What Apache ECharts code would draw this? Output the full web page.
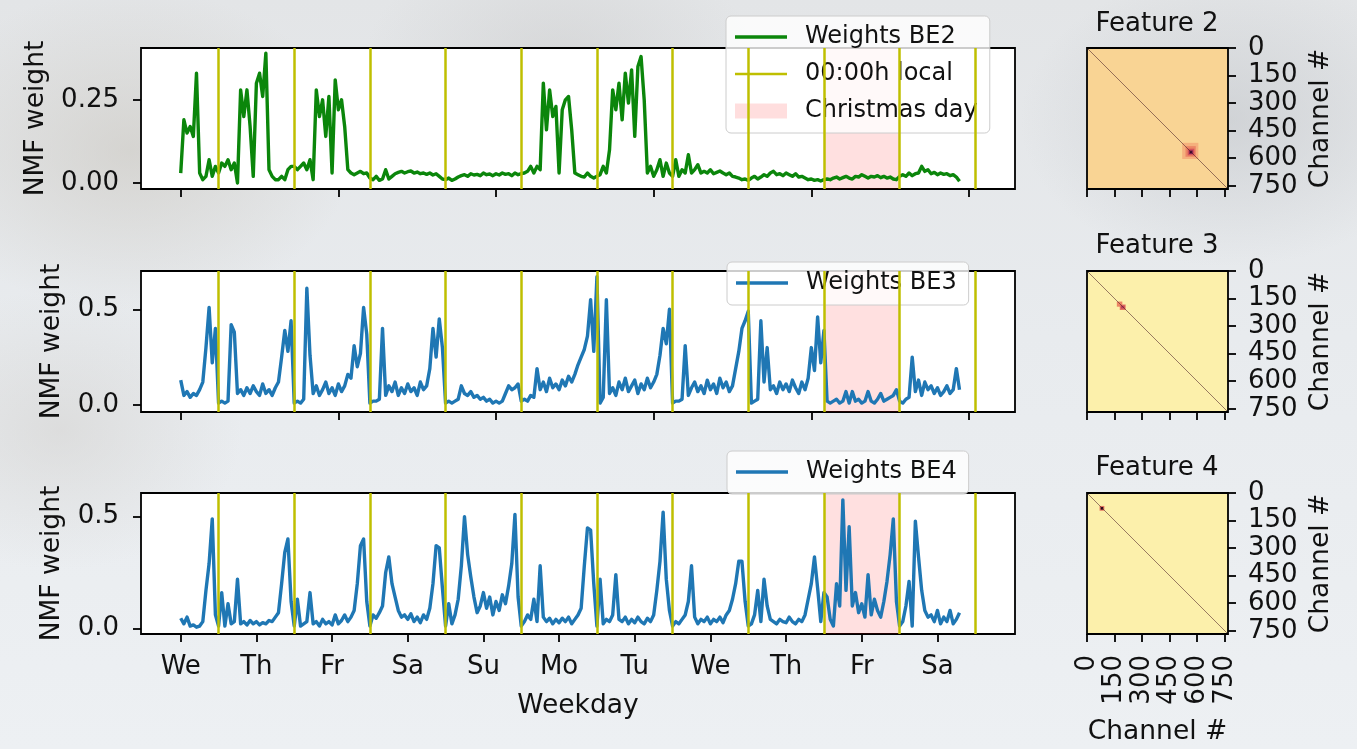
<!DOCTYPE html>
<html>
<head>
<meta charset="utf-8">
<script src="https://cdn.jsdelivr.net/npm/echarts@6/dist/echarts.min.js"></script>
<style>
  html, body { margin: 0; padding: 0; width: 1357px; height: 749px; overflow: hidden; }
  body {
    background:
      radial-gradient(ellipse 320px 230px at 130px 150px, rgba(200,196,188,0.55), rgba(200,196,188,0) 70%),
      radial-gradient(ellipse 280px 170px at 560px 60px, rgba(198,198,198,0.45), rgba(198,198,198,0) 70%),
      radial-gradient(ellipse 300px 210px at 1230px 120px, rgba(184,187,191,0.45), rgba(184,187,191,0) 70%),
      radial-gradient(ellipse 260px 200px at 60px 430px, rgba(208,206,203,0.5), rgba(208,206,203,0) 70%),
      linear-gradient(180deg, #e3e5e7 0%, #e8ebee 45%, #edf0f3 100%);
  }
  #chart { width: 1357px; height: 749px; }
</style>
</head>
<body>
<div id="chart"></div>
<script>
// Hourly NMF weights, hour 0 = Wednesday noon (local), 248 samples each.
const be2 = [
  0.03, 0.19, 0.15, 0.17, 0.14, 0.33, 0.03, 0.01, 0.02, 0.07, 0.02, 0.05,
  0.03, 0.06, 0.05, 0.07, 0.04, 0.06, 0.00, 0.28, 0.20, 0.28, 0.17, 0.02,
  0.30, 0.33, 0.26, 0.39, 0.04, 0.02, 0.01, 0.01, 0.02, 0.01, 0.04, 0.05,
  0.05, 0.04, 0.05, 0.06, 0.04, 0.07, 0.01, 0.28, 0.20, 0.25, 0.14, 0.26,
  0.03, 0.31, 0.22, 0.25, 0.17, 0.04, 0.03, 0.025, 0.03, 0.035, 0.028, 0.03,
  0.015, 0.01, 0.02, 0.008, 0.012, 0.04, 0.012, 0.02, 0.028, 0.032, 0.035, 0.03,
  0.034, 0.036, 0.03, 0.033, 0.028, 0.03, 0.026, 0.03, 0.024, 0.028, 0.02, 0.012,
  0.01, 0.015, 0.008, 0.012, 0.018, 0.022, 0.025, 0.02, 0.028, 0.024, 0.026, 0.022,
  0.03, 0.025, 0.027, 0.022, 0.028, 0.024, 0.03, 0.026, 0.028, 0.022, 0.03, 0.025,
  0.028, 0.03, 0.035, 0.05, 0.03, 0.05, 0.04, 0.30, 0.16, 0.28, 0.20, 0.23,
  0.03, 0.22, 0.25, 0.26, 0.16, 0.03, 0.025, 0.02, 0.018, 0.03, 0.02, 0.015,
  0.02, 0.025, 0.05, 0.03, 0.10, 0.28, 0.22, 0.30, 0.19, 0.33, 0.24, 0.34,
  0.14, 0.35, 0.38, 0.25, 0.03, 0.05, 0.02, 0.04, 0.07, 0.02, 0.06, 0.03,
  0.02, 0.07, 0.02, 0.04, 0.03, 0.085, 0.03, 0.04, 0.055, 0.03, 0.035, 0.03,
  0.04, 0.028, 0.032, 0.036, 0.03, 0.025, 0.03, 0.02, 0.018, 0.015, 0.01, 0.012,
  0.008, 0.015, 0.02, 0.012, 0.018, 0.025, 0.02, 0.03, 0.035, 0.025, 0.028, 0.022,
  0.03, 0.025, 0.02, 0.028, 0.018, 0.02, 0.015, 0.01, 0.012, 0.008, 0.01, 0.006,
  0.01, 0.012, 0.01, 0.015, 0.018, 0.012, 0.016, 0.02, 0.015, 0.012, 0.02, 0.018,
  0.025, 0.02, 0.015, 0.02, 0.018, 0.022, 0.016, 0.02, 0.015, 0.018, 0.012, 0.01,
  0.02, 0.025, 0.02, 0.03, 0.022, 0.028, 0.03, 0.05, 0.035, 0.04, 0.028, 0.032,
  0.025, 0.03, 0.026, 0.028, 0.022, 0.025, 0.018, 0.005
];
const be3 = [
  0.13, 0.05, 0.07, 0.04, 0.06, 0.05, 0.08, 0.12, 0.30, 0.51, 0.22, 0.40,
  0.01, 0.02, 0.01, 0.02, 0.42, 0.38, 0.06, 0.08, 0.05, 0.09, 0.06, 0.10,
  0.07, 0.05, 0.11, 0.06, 0.08, 0.05, 0.09, 0.12, 0.25, 0.39, 0.28, 0.44,
  0.01, 0.02, 0.01, 0.03, 0.61, 0.26, 0.06, 0.10, 0.05, 0.08, 0.12, 0.06,
  0.09, 0.05, 0.11, 0.07, 0.10, 0.16, 0.14, 0.31, 0.20, 0.27, 0.51, 0.37,
  0.01, 0.02, 0.02, 0.03, 0.40, 0.05, 0.10, 0.07, 0.12, 0.05, 0.09, 0.06,
  0.11, 0.07, 0.09, 0.05, 0.12, 0.08, 0.10, 0.19, 0.40, 0.25, 0.45, 0.30,
  0.01, 0.02, 0.01, 0.02, 0.03, 0.10, 0.06, 0.05, 0.07, 0.04, 0.05, 0.03,
  0.04, 0.02, 0.03, 0.01, 0.02, 0.01, 0.02, 0.06, 0.10, 0.08, 0.09, 0.11,
  0.02, 0.03, 0.02, 0.05, 0.04, 0.19, 0.08, 0.12, 0.07, 0.14, 0.09, 0.11,
  0.08, 0.13, 0.10, 0.15, 0.12, 0.16, 0.21, 0.25, 0.29, 0.36, 0.55, 0.28,
  0.67, 0.01, 0.04, 0.55, 0.06, 0.09, 0.05, 0.12, 0.08, 0.14, 0.07, 0.10,
  0.13, 0.06, 0.11, 0.08, 0.14, 0.09, 0.12, 0.16, 0.26, 0.40, 0.32, 0.50,
  0.01, 0.02, 0.02, 0.03, 0.31, 0.05, 0.09, 0.12, 0.07, 0.10, 0.06, 0.13,
  0.08, 0.11, 0.06, 0.14, 0.09, 0.12, 0.07, 0.10, 0.19, 0.28, 0.40, 0.44,
  0.49, 0.01, 0.02, 0.03, 0.44, 0.12, 0.30, 0.08, 0.10, 0.06, 0.12, 0.08,
  0.11, 0.07, 0.13, 0.09, 0.06, 0.12, 0.08, 0.14, 0.30, 0.18, 0.46, 0.22,
  0.39, 0.02, 0.01, 0.02, 0.03, 0.01, 0.02, 0.07, 0.01, 0.07, 0.02, 0.03,
  0.01, 0.02, 0.07, 0.02, 0.01, 0.03, 0.06, 0.02, 0.03, 0.04, 0.05, 0.08,
  0.02, 0.01, 0.03, 0.04, 0.25, 0.07, 0.13, 0.05, 0.12, 0.08, 0.10, 0.06,
  0.09, 0.05, 0.07, 0.10, 0.06, 0.08, 0.19, 0.08
];
const be4 = [
  0.045, 0.02, 0.05, 0.01, 0.015, 0.005, 0.01, 0.03, 0.17, 0.29, 0.49, 0.06,
  0.01, 0.16, 0.01, 0.11, 0.02, 0.03, 0.22, 0.02, 0.03, 0.015, 0.035, 0.02,
  0.03, 0.015, 0.025, 0.02, 0.035, 0.03, 0.05, 0.07, 0.20, 0.34, 0.40, 0.12,
  0.01, 0.13, 0.01, 0.02, 0.03, 0.16, 0.02, 0.03, 0.01, 0.04, 0.02, 0.03,
  0.015, 0.06, 0.02, 0.035, 0.06, 0.03, 0.05, 0.08, 0.20, 0.37, 0.40, 0.12,
  0.01, 0.06, 0.045, 0.07, 0.10, 0.25, 0.32, 0.20, 0.14, 0.08, 0.05, 0.06,
  0.04, 0.065, 0.03, 0.05, 0.025, 0.06, 0.04, 0.09, 0.20, 0.37, 0.36, 0.18,
  0.01, 0.11, 0.02, 0.06, 0.13, 0.28, 0.50, 0.33, 0.23, 0.14, 0.07, 0.10,
  0.16, 0.09, 0.14, 0.06, 0.12, 0.08, 0.15, 0.11, 0.19, 0.29, 0.51, 0.14,
  0.01, 0.03, 0.06, 0.04, 0.13, 0.03, 0.28, 0.05, 0.03, 0.045, 0.02, 0.04,
  0.025, 0.045, 0.03, 0.05, 0.02, 0.04, 0.06, 0.09, 0.28, 0.45, 0.44, 0.20,
  0.01, 0.22, 0.02, 0.04, 0.03, 0.06, 0.24, 0.04, 0.03, 0.05, 0.02, 0.04,
  0.025, 0.05, 0.03, 0.02, 0.045, 0.03, 0.06, 0.17, 0.30, 0.52, 0.22, 0.08,
  0.01, 0.03, 0.02, 0.04, 0.06, 0.12, 0.28, 0.05, 0.02, 0.04, 0.03, 0.05,
  0.02, 0.04, 0.03, 0.05, 0.025, 0.06, 0.08, 0.13, 0.20, 0.30, 0.30, 0.12,
  0.01, 0.02, 0.06, 0.17, 0.03, 0.22, 0.10, 0.04, 0.03, 0.02, 0.04, 0.03,
  0.025, 0.05, 0.03, 0.02, 0.04, 0.03, 0.06, 0.13, 0.20, 0.32, 0.18, 0.03,
  0.16, 0.14, 0.04, 0.01, 0.20, 0.10, 0.575, 0.17, 0.455, 0.10, 0.16, 0.07,
  0.11, 0.05, 0.24, 0.06, 0.13, 0.08, 0.05, 0.12, 0.21, 0.33, 0.49, 0.12,
  0.01, 0.03, 0.10, 0.21, 0.01, 0.48, 0.32, 0.17, 0.08, 0.05, 0.06, 0.03,
  0.08, 0.02, 0.05, 0.03, 0.08, 0.02, 0.04, 0.07
];

// Local midnights (hours) and the Christmas day span.
const midnightHours = [12, 36, 60, 84, 108, 132, 156, 180, 204, 228, 252];
const christmasSpan = [204, 228];

// Bottom axis: one tick per day; upper panels: one tick every 50 hours.
const dayTicks = [0, 24, 48, 72, 96, 120, 144, 168, 192, 216, 240];
const dayLabels = ['We', 'Th', 'Fr', 'Sa', 'Su', 'Mo', 'Tu', 'We', 'Th', 'Fr', 'Sa'];
const hourTicks = [0, 50, 100, 150, 200, 250];

// y ranges and ticks of the three weight panels.
const weightRanges = [[-0.018, 0.4057], [-0.0366, 0.700], [-0.0255, 0.606]];
const weightTicks = [[0, 0.25], [0, 0.5], [0, 0.5]];
const weightDecimals = [2, 1, 1];

// Channel covariance maps: [ch0, ch1, row0, row1, relative level].
const channelTicks = [0, 150, 300, 450, 600, 750];
const channelSpan = [-0.5, 767.5];
const diagonal = [0, 767];
const feature2Cells = [
  [-0.5, 767.5, -0.5, 767.5, 0.143],
  [518, 606, 516, 604, 0.27],
  [536, 592, 534, 592, 0.40],
  [548, 584, 548, 584, 0.56],
  [556, 576, 557, 577, 0.78],
  [561, 571, 562, 572, 0.95]
];
const feature3Cells = [
  [-0.5, 767.5, -0.5, 767.5, 0.0],
  [162, 192, 166, 194, 0.40],
  [178, 210, 182, 212, 0.45],
  [184, 204, 188, 204, 0.62]
];
const feature4Cells = [
  [-0.5, 767.5, -0.5, 767.5, 0.0],
  [68, 94, 70, 96, 0.45],
  [74, 88, 76, 90, 0.98]
];

const FONT = 'DejaVu Sans';
const INK = '#111111';
const GREEN = '#0b860b';
const BLUE = '#1f77b4';
const YELLOW = '#bfbf00';
const PINK = 'rgba(255,0,0,0.12)';
const LINE_ICON = 'path://M0,0H52V3.4H0Z';
const THIN_ICON = 'path://M0,0H52V2.5H0Z';
const TICK_FS = 26;
const NAME_FS = 26.5;

const panelTops = [48, 271, 493];
const weightSeries = [be2, be3, be4];
const weightNames = ['Weights BE2', 'Weights BE3', 'Weights BE4'];
const weightColors = [GREEN, BLUE, BLUE];
const featureCells = [feature2Cells, feature3Cells, feature4Cells];
const featureTitles = ['Feature 2', 'Feature 3', 'Feature 4'];

const txt = (size) => ({ fontFamily: FONT, fontSize: size, color: INK });
const tickStyle = { color: '#000', width: 1.8 };
const noLine = { show: false, onZero: false };

const grids = [];
const xAxes = [];
const yAxes = [];
const series = [];

panelTops.forEach((top, i) => {
  grids.push({
    left: 141, top: top, width: 874, height: 141,
    show: true, backgroundColor: '#ffffff', borderColor: '#000', borderWidth: 1.8
  });
  const bottom = i === 2;
  xAxes.push({
    gridIndex: i, type: 'value', min: -12.6, max: 264.6, position: 'bottom',
    axisLine: noLine, splitLine: { show: false },
    axisTick: { show: true, length: 8, lineStyle: tickStyle, customValues: bottom ? dayTicks : hourTicks },
    axisLabel: {
      show: bottom, customValues: dayTicks, margin: 20, ...txt(TICK_FS),
      formatter: (v) => dayLabels[dayTicks.indexOf(Math.round(v))] || ''
    },
    name: bottom ? 'Weekday' : '', nameLocation: 'middle', nameGap: 59,
    nameTextStyle: txt(NAME_FS)
  });
  yAxes.push({
    gridIndex: i, type: 'value', min: weightRanges[i][0], max: weightRanges[i][1], position: 'left',
    axisLine: noLine, splitLine: { show: false },
    axisTick: { show: true, length: 8, lineStyle: tickStyle, customValues: weightTicks[i] },
    axisLabel: {
      customValues: weightTicks[i], margin: 22, ...txt(TICK_FS),
      formatter: (v) => v.toFixed(weightDecimals[i])
    },
    name: 'NMF weight', nameLocation: 'middle', nameRotate: 90,
    nameGap: i === 0 ? 91 : 75, nameTextStyle: txt(NAME_FS)
  });
});

panelTops.forEach((top, k) => {
  const gi = 3 + k;
  grids.push({
    left: 1087, top: top, width: 141, height: 141, z: 5,
    show: true, backgroundColor: 'transparent', borderColor: '#000', borderWidth: 1.8
  });
  const bottom = k === 2;
  xAxes.push({
    gridIndex: gi, type: 'value', min: channelSpan[0], max: channelSpan[1], position: 'bottom',
    axisLine: noLine, splitLine: { show: false },
    axisTick: { show: true, length: 8, lineStyle: tickStyle, customValues: channelTicks },
    axisLabel: { show: bottom, customValues: channelTicks, rotate: 90, margin: 21, ...txt(TICK_FS) },
    name: bottom ? 'Channel #' : '', nameLocation: 'middle', nameGap: 85,
    nameTextStyle: txt(NAME_FS)
  });
  yAxes.push({
    gridIndex: gi, type: 'value', inverse: true, position: 'right',
    min: channelSpan[0], max: channelSpan[1],
    axisLine: noLine, splitLine: { show: false },
    axisTick: { show: true, length: 8, lineStyle: tickStyle, customValues: channelTicks },
    axisLabel: { customValues: channelTicks, margin: 20, ...txt(TICK_FS) },
    name: 'Channel #', nameLocation: 'middle', nameRotate: 90, nameGap: 80,
    nameTextStyle: txt(NAME_FS)
  });
});

// Weight time series, midnight markers and the Christmas shading.
weightSeries.forEach((values, i) => {
  series.push({
    name: weightNames[i], type: 'line', xAxisIndex: i, yAxisIndex: i,
    data: values.map((v, h) => [h, v]),
    symbol: 'none', showSymbol: false, z: 3,
    lineStyle: { color: weightColors[i], width: 3.4, join: 'round' },
    itemStyle: { color: weightColors[i] }
  });
  series.push({
    name: '00:00h local', type: 'line', xAxisIndex: i, yAxisIndex: i,
    data: [], symbol: 'none', z: 4,
    lineStyle: { color: YELLOW, width: 2.5 }, itemStyle: { color: YELLOW },
    markLine: {
      silent: true, symbol: ['none', 'none'], label: { show: false },
      lineStyle: { color: YELLOW, width: 2.5, type: 'solid' },
      data: midnightHours.map((h) => ({ xAxis: h }))
    }
  });
  series.push({
    name: 'Christmas day', type: 'line', xAxisIndex: i, yAxisIndex: i,
    data: [], symbol: 'none', z: 1,
    itemStyle: { color: PINK },
    markArea: {
      silent: true, itemStyle: { color: PINK },
      data: [[{ xAxis: christmasSpan[0] }, { xAxis: christmasSpan[1] }]]
    }
  });
});

// Channel maps drawn as rectangles on value axes.
function renderCell(params, api) {
  const a = api.coord([api.value(0), api.value(2)]);
  const b = api.coord([api.value(1), api.value(3)]);
  return {
    type: 'rect',
    shape: {
      x: Math.min(a[0], b[0]), y: Math.min(a[1], b[1]),
      width: Math.abs(b[0] - a[0]), height: Math.abs(b[1] - a[1])
    },
    style: { fill: api.visual('color') }
  };
}
const cellSeriesIdx = [];
featureCells.forEach((cells, k) => {
  cellSeriesIdx.push(series.length);
  series.push({
    type: 'custom', xAxisIndex: 3 + k, yAxisIndex: 3 + k,
    renderItem: renderCell, data: cells, clip: true, z: 2,
    encode: { x: [0, 1], y: [2, 3] }
  });
});
featureCells.forEach((cells, k) => {
  series.push({
    type: 'line', xAxisIndex: 3 + k, yAxisIndex: 3 + k,
    data: [[diagonal[0], diagonal[0]], [diagonal[1], diagonal[1]]],
    symbol: 'none', silent: true, z: 3,
    lineStyle: { color: 'rgba(70,25,35,0.55)', width: 1 }
  });
});

const legendBox = {
  orient: 'vertical', itemWidth: 52, itemHeight: 15, itemGap: 11,
  padding: [8, 12, 9, 9], backgroundColor: 'rgba(255,255,255,0.8)',
  borderColor: '#cccccc', borderWidth: 1, borderRadius: 5,
  selectedMode: false,
  textStyle: { ...txt(24), lineHeight: 26, padding: [0, 0, 0, 13] }
};

const option = {
  animation: false,
  grid: grids,
  xAxis: xAxes,
  yAxis: yAxes,
  series: series,
  visualMap: {
    show: false, type: 'continuous', seriesIndex: cellSeriesIdx, dimension: 4,
    min: 0, max: 1,
    inRange: { color: ['#fcf0ab', '#f9d494', '#f5ab7a', '#ea7c60', '#cf4d57', '#9a2a57', '#581347', '#1a0414'] }
  },
  legend: [
    { ...legendBox, left: 726, top: 16, data: [
      { name: 'Weights BE2', icon: LINE_ICON, itemStyle: { color: GREEN } },
      { name: '00:00h local', icon: THIN_ICON, itemStyle: { color: YELLOW } },
      { name: 'Christmas day', icon: 'rect', itemStyle: { color: 'rgba(255,0,0,0.13)' } }
    ] },
    { ...legendBox, left: 727, top: 262, data: [
      { name: 'Weights BE3', icon: LINE_ICON, itemStyle: { color: BLUE } }
    ] },
    { ...legendBox, left: 727, top: 451, data: [
      { name: 'Weights BE4', icon: LINE_ICON, itemStyle: { color: BLUE } }
    ] }
  ],
  graphic: featureTitles.map((t, k) => ({
    type: 'text', x: 1157, y: [24, 246, 468][k],
    style: { text: t, align: 'center', verticalAlign: 'middle', font: '26px "DejaVu Sans"', fill: INK }
  }))
};

const chart = echarts.init(document.getElementById('chart'), null, { renderer: 'canvas' });
chart.setOption(option);
</script>
</body>
</html>
